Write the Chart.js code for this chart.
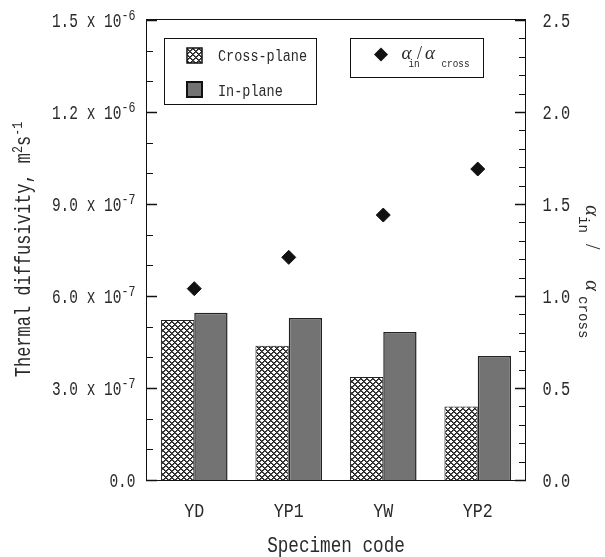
<!DOCTYPE html>
<html>
<head>
<meta charset="utf-8">
<script src="https://cdn.jsdelivr.net/npm/chart.js@4"></script>
<style>html, body { margin: 0; padding: 0; background: #fff; }</style>
</head>
<body>
<canvas id="chart" width="605" height="557"></canvas>
<script>
// Values
const categories = ['YD', 'YP1', 'YW', 'YP2'];
const crossPlane = [5.22e-7, 4.38e-7, 3.36e-7, 2.40e-7];
const inPlane = [5.45e-7, 5.28e-7, 4.83e-7, 4.04e-7];
const ratio = [1.04, 1.21, 1.44, 1.69];

const leftTickValues = [0, 3e-7, 6e-7, 9e-7, 1.2e-6, 1.5e-6];
const leftTickMantissa = ['0.0', '3.0 x 10', '6.0 x 10', '9.0 x 10', '1.2 x 10', '1.5 x 10'];
const leftTickExponent = ['', '-7', '-7', '-7', '-6', '-6'];
const rightTickValues = [0, 0.5, 1.0, 1.5, 2.0, 2.5];
const rightTickLabels = ['0.0', '0.5', '1.0', '1.5', '2.0', '2.5'];

const INK = '#111';
const TEXT = '#2a2a2a';
const GREY = '#737373';
const MONO = '"Liberation Mono"';
const SERIF_IT = 'italic 19px "Liberation Serif"';

const canvas = document.getElementById('chart');
const ctx = canvas.getContext('2d');

// crosshatch fill for the cross-plane bars
function makeHatch() {
    const n = 6;
    const c = document.createElement('canvas');
    c.width = c.height = n;
    const g = c.getContext('2d');
    g.fillStyle = '#fff';
    g.fillRect(0, 0, n, n);
    for (let px = 0; px < n; px++) {
        for (let py = 0; py < n; py++) {
            const d1 = ((px - py) % n + n) % n;
            const d2 = (px + py) % n;
            if (d1 === 0 || d2 === 0) { g.fillStyle = '#1e1e1e'; g.fillRect(px, py, 1, 1); }
            else if (d1 === 1 || d2 === 1) { g.fillStyle = '#5a5a5a'; g.fillRect(px, py, 1, 1); }
        }
    }
    return ctx.createPattern(c, 'repeat');
}
const hatch = makeHatch();

// narrow monospace look: size picked by cap height, squeezed to a cell width
const measure = document.createElement('canvas').getContext('2d');
function mono(capH, charW) {
    measure.font = '100px ' + MONO;
    const cap = measure.measureText('H').actualBoundingBoxAscent;
    const size = capH * 100 / cap;
    const w = measure.measureText('0').width * size / 100;
    return { font: size.toFixed(2) + 'px ' + MONO, k: charW / w, cap: capH };
}
function plain(font) { return { font, k: 1 }; }

function drawRuns(c, parts, x, y, align) {
    let total = 0;
    for (const p of parts) {
        c.font = p.f.font;
        p.w = c.measureText(p.t).width * p.f.k;
        total += p.w + (p.gap || 0);
    }
    let cx = align === 'right' ? x - total : align === 'center' ? x - total / 2 : x;
    for (const p of parts) {
        c.save();
        c.font = p.f.font;
        c.textAlign = 'left';
        c.textBaseline = 'alphabetic';
        c.translate(cx, y + (p.dy || 0));
        c.scale(p.f.k, 1);
        c.fillText(p.t, 0, 0);
        c.restore();
        cx += p.w + (p.gap || 0);
    }
}

const fTick = mono(14, 8.7);
const fExp = mono(9.5, 7);
const fRight = mono(13.5, 9.2);
const fCat = mono(13.3, 10);
const fXTitle = mono(15, 10.6);
const fLegend = mono(11.3, 8.1);
const fYTitle = mono(15, 10.2);
const fYSup = mono(9.5, 7);
const fSub = mono(7.5, 5.6);
const fSubBig = mono(9.5, 8.5);

function diamond(c, x, y, r) {
    c.beginPath();
    c.moveTo(x - r, y);
    c.lineTo(x, y - r);
    c.lineTo(x + r, y);
    c.lineTo(x, y + r);
    c.closePath();
    c.fill();
}

const decor = {
    id: 'decor',
    afterDraw(chart) {
        const { ctx: c, chartArea: a, scales } = chart;
        const y = scales.y, y1 = scales.y1, x = scales.x;
        c.save();
        c.strokeStyle = INK;
        c.lineWidth = 1;

        // frame
        c.strokeRect(a.left - 0.5, a.top - 0.5, a.right - a.left + 1, a.bottom - a.top + 1);

        // inward ticks, left (minor every 1e-7) and right (minor every 0.1)
        for (let i = 0; i <= 15; i++) {
            const yy = Math.round(y.getPixelForValue(i * 1e-7)) + 0.5;
            const major = i % 3 === 0;
            c.lineWidth = major ? 1.5 : 1;
            c.beginPath();
            c.moveTo(a.left - (major ? 1 : 0), yy);
            c.lineTo(a.left + (major ? 10 : 6), yy);
            c.stroke();
        }
        for (let i = 0; i <= 25; i++) {
            const yy = Math.round(y1.getPixelForValue(i / 10)) + 0.5;
            const major = i % 5 === 0;
            c.lineWidth = major ? 1.5 : 1;
            c.beginPath();
            c.moveTo(a.right + (major ? 1 : 0), yy);
            c.lineTo(a.right - (major ? 10 : 6), yy);
            c.stroke();
        }

        c.fillStyle = TEXT;
        // left tick labels with powers of ten
        leftTickValues.forEach((v, i) => {
            const yy = y.getPixelForValue(v);
            const parts = [{ t: leftTickMantissa[i], f: fTick, dy: 7 }];
            if (leftTickExponent[i]) parts.push({ t: leftTickExponent[i], f: fExp, dy: -0.5 });
            drawRuns(c, parts, 135.5, yy, 'right');
        });
        // right tick labels
        rightTickValues.forEach((v, i) => {
            const yy = y1.getPixelForValue(v);
            drawRuns(c, [{ t: rightTickLabels[i], f: fRight }], 542.5, yy + 6.75, 'left');
        });
        // category labels
        categories.forEach((cat, i) => {
            drawRuns(c, [{ t: cat, f: fCat }], x.getPixelForValue(i), 510 + 6.65, 'center');
        });
        // x title
        drawRuns(c, [{ t: 'Specimen code', f: fXTitle }], (a.left + a.right) / 2, 544 + 7.5, 'center');

        // left title, rotated
        c.save();
        c.translate(29.5, 249.5);
        c.rotate(-Math.PI / 2);
        drawRuns(c, [
            { t: 'Thermal diffusivity, m', f: fYTitle },
            { t: '2', f: fYSup, dy: -8 },
            { t: 's', f: fYTitle },
            { t: '-1', f: fYSup, dy: -8 }
        ], 0, 0, 'center');
        c.restore();

        // right title, rotated clockwise
        c.save();
        c.translate(586, 0);
        c.rotate(Math.PI / 2);
        drawRuns(c, [{ t: '\u03b1', f: plain('italic 21px "Liberation Serif"') }], 205, 0, 'left');
        drawRuns(c, [{ t: 'in', f: fSubBig }], 216, 7.5, 'left');
        drawRuns(c, [{ t: '/', f: plain('20px "Liberation Serif"') }], 244, 0, 'left');
        drawRuns(c, [{ t: '\u03b1', f: plain('italic 21px "Liberation Serif"') }], 280, 0, 'left');
        drawRuns(c, [{ t: 'cross', f: fSubBig }], 296, 7.5, 'left');
        c.restore();

        // legend 1
        c.lineWidth = 1;
        c.strokeStyle = INK;
        c.strokeRect(164.5, 38.5, 152, 66);
        c.fillStyle = hatch;
        c.fillRect(187, 48, 15, 15);
        c.lineWidth = 1.5;
        c.strokeRect(187, 48, 15, 15);
        c.fillStyle = GREY;
        c.fillRect(187, 82, 15, 15);
        c.lineWidth = 2;
        c.strokeRect(187, 82, 15, 15);
        c.fillStyle = TEXT;
        drawRuns(c, [{ t: 'Cross-plane', f: fLegend }], 218, 55.5 + 5.65, 'left');
        drawRuns(c, [{ t: 'In-plane', f: fLegend }], 218, 90.5 + 5.65, 'left');

        // legend 2
        c.lineWidth = 1;
        c.strokeRect(350.5, 38.5, 133, 39);
        c.fillStyle = INK;
        diamond(c, 381, 54.5, 7);
        c.fillStyle = TEXT;
        drawRuns(c, [{ t: '\u03b1', f: plain(SERIF_IT) }], 401.5, 58.5, 'left');
        drawRuns(c, [{ t: 'in', f: fSub }], 408.5, 67, 'left');
        drawRuns(c, [{ t: '/', f: plain('18px "Liberation Serif"') }], 417, 59, 'left');
        drawRuns(c, [{ t: '\u03b1', f: plain(SERIF_IT) }], 425, 58.5, 'left');
        drawRuns(c, [{ t: 'cross', f: fSub }], 441.5, 67, 'left');
        c.restore();
    }
};

new Chart(ctx, {
    type: 'bar',
    data: {
        labels: categories,
        datasets: [
            {
                label: 'alpha_in / alpha_cross',
                type: 'line',
                data: ratio,
                yAxisID: 'y1',
                showLine: false,
                pointStyle: 'rectRot',
                pointRadius: 7,
                backgroundColor: INK,
                borderColor: INK,
                borderWidth: 1,
                order: 0
            },
            {
                label: 'Cross-plane',
                data: crossPlane,
                yAxisID: 'y',
                backgroundColor: hatch,
                borderColor: '#222',
                borderWidth: 1,
                order: 1
            },
            {
                label: 'In-plane',
                data: inPlane,
                yAxisID: 'y',
                backgroundColor: GREY,
                borderColor: '#222',
                borderWidth: 1.5,
                order: 1
            }
        ]
    },
    options: {
        responsive: false,
        animation: false,
        layout: { padding: { left: 147, right: 80, top: 20, bottom: 77 } },
        datasets: { bar: { categoryPercentage: 0.705, barPercentage: 1.0 } },
        plugins: { legend: { display: false }, tooltip: { enabled: false } },
        scales: {
            x: { display: false, offset: true },
            y: { display: false, min: 0, max: 1.5e-6 },
            y1: { display: false, position: 'right', min: 0, max: 2.5 }
        }
    },
    plugins: [decor]
});
</script>
</body>
</html>
